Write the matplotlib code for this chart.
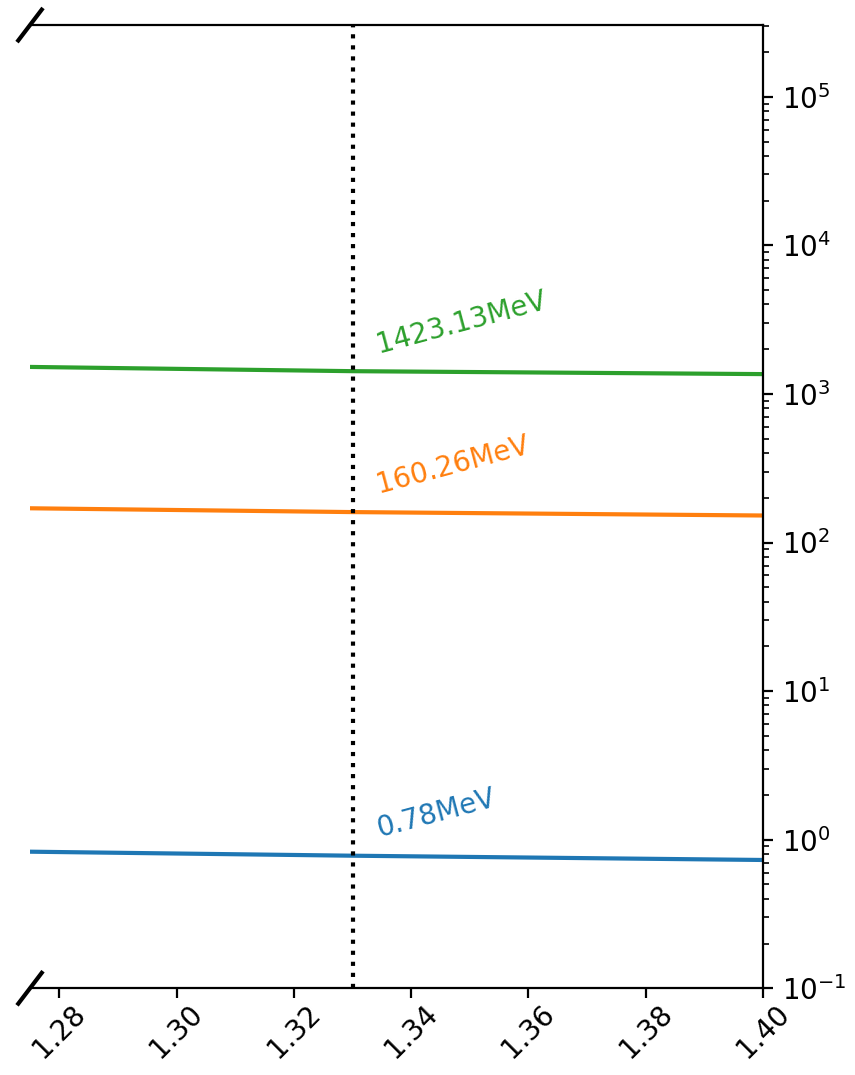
import numpy as np
import matplotlib
matplotlib.use('Agg')
import matplotlib.pyplot as plt

# energy curves vs. x, right-hand panel of a broken-axis plot
x = [1.275, 1.33, 1.40]
e_high = [1520.0, 1423.13, 1360.0]
e_mid = [170.0, 160.26, 152.0]
e_low = [0.83, 0.78, 0.73]

x_mark = 1.33
labels = ['0.78MeV', '160.26MeV', '1423.13MeV']
series = [e_low, e_mid, e_high]
colors = ['tab:blue', 'tab:orange', 'tab:green']

fig = plt.figure(figsize=(4.275, 5.375), dpi=200)
ax = fig.add_axes([0.0351, 0.0807, 0.8573, 0.896])

for vals, lab, c in zip(series, labels, colors):
    ax.plot(x, vals, color=c)
    v = vals[x.index(x_mark)]
    ax.text(x_mark + 0.0035, v * 1.22, lab, color=c, rotation=15,
            ha='left', va='bottom')

ax.axvline(x_mark, color='k', linestyle=':')

ax.set_yscale('log')
ax.set_xlim(1.275, 1.40)
ax.set_ylim(0.1, 3.04e5)
ax.set_xticks(np.arange(1.28, 1.401, 0.02))
ax.tick_params(axis='x', labelrotation=45, pad=0.5)

ax.spines['left'].set_visible(False)
ax.yaxis.tick_right()

# diagonal break marks on the left edge
d = .016
kw = dict(transform=ax.transAxes, color='k', clip_on=False)
ax.plot((-d, +d), (-d, +d), **kw)
ax.plot((-d, +d), (1 - d, 1 + d), **kw)

fig.savefig('out.png', dpi=200)
